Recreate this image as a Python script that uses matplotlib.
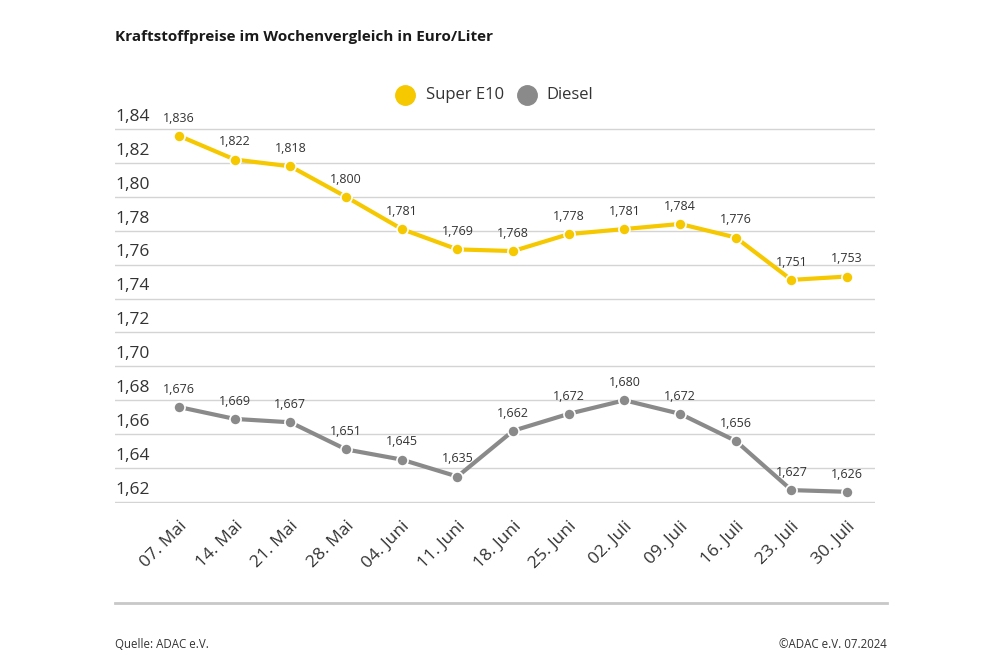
import matplotlib.pyplot as plt
from matplotlib.transforms import blended_transform_factory, offset_copy

plt.rcParams['font.family'] = ['Open Sans', 'DejaVu Sans']

weeks = ['07. Mai', '14. Mai', '21. Mai', '28. Mai', '04. Juni', '11. Juni', '18. Juni',
         '25. Juni', '02. Juli', '09. Juli', '16. Juli', '23. Juli', '30. Juli']
super_e10 = [1.836, 1.822, 1.818, 1.800, 1.781, 1.769, 1.768, 1.778, 1.781, 1.784, 1.776, 1.751, 1.753]
diesel = [1.676, 1.669, 1.667, 1.651, 1.645, 1.635, 1.662, 1.672, 1.680, 1.672, 1.656, 1.627, 1.626]
yticks = [1.62, 1.64, 1.66, 1.68, 1.70, 1.72, 1.74, 1.76, 1.78, 1.80, 1.82, 1.84]

yellow = '#F5C800'
grey = '#8a8a8a'
text_col = '#333333'

fig = plt.figure(figsize=(10, 6.67), dpi=100)
ax = fig.add_axes([0.115, 1 - 503 / 667, 0.76, (503 - 128) / 667])

x = list(range(len(weeks)))
for vals, col in [(super_e10, yellow), (diesel, grey)]:
    ax.plot(x, vals, color=col, lw=3, marker='o', ms=8, mec='white', mew=1.2,
            clip_on=False, zorder=3)
    for xi, v in zip(x, vals):
        ax.annotate(f'{v:.3f}'.replace('.', ','), (xi, v), xytext=(0, 8),
                    textcoords='offset points', ha='center', va='bottom',
                    fontsize=9, color=text_col, zorder=4)

ax.set_xlim(-1.15, 12.5)
ax.set_ylim(1.6194, 1.8406)
for s in ax.spines.values():
    s.set_visible(False)
ax.set_yticks(yticks)
ax.set_yticklabels([])
ax.tick_params(axis='y', length=0)
ax.grid(axis='y', color='#d4d4d4', lw=1)
ax.set_axisbelow(True)

trans = offset_copy(blended_transform_factory(ax.transAxes, ax.transData),
                    fig=fig, y=3, units='points')
for t in yticks:
    ax.text(0, t, f'{t:.2f}'.replace('.', ','), transform=trans,
            ha='left', va='bottom', fontsize=12.5, color=text_col)

ax.set_xticks(x)
ax.set_xticklabels(weeks, rotation=45, ha='right', rotation_mode='anchor',
                   fontsize=12.5, color=text_col)
ax.tick_params(axis='x', length=0, pad=11)

fig.text(0.115, 0.945, 'Kraftstoffpreise im Wochenvergleich in Euro/Liter',
         fontsize=11, fontweight='bold', color='#1a1a1a', ha='left', va='center')

# legend
fig.lines.append(plt.Line2D([0.405], [1 - 95 / 667], marker='o', ms=14, color=yellow,
                            lw=0, transform=fig.transFigure))
fig.text(0.426, 1 - 95 / 667, 'Super E10', fontsize=12, color=text_col, va='center')
fig.lines.append(plt.Line2D([0.527], [1 - 95 / 667], marker='o', ms=14, color=grey,
                            lw=0, transform=fig.transFigure))
fig.text(0.546, 1 - 95 / 667, 'Diesel', fontsize=12, color=text_col, va='center')

fig.lines.append(plt.Line2D([0.115, 0.887], [1 - 603 / 667] * 2, color='#c8c8c8', lw=2,
                            transform=fig.transFigure))
fig.text(0.115, 1 - 645 / 667, 'Quelle: ADAC e.V.', fontsize=8.3,
         color=text_col, va='center')
fig.text(0.887, 1 - 645 / 667, '©ADAC e.V. 07.2024', fontsize=8.3,
         color=text_col, va='center', ha='right')

fig.savefig('out.png', dpi=100, facecolor='white')
